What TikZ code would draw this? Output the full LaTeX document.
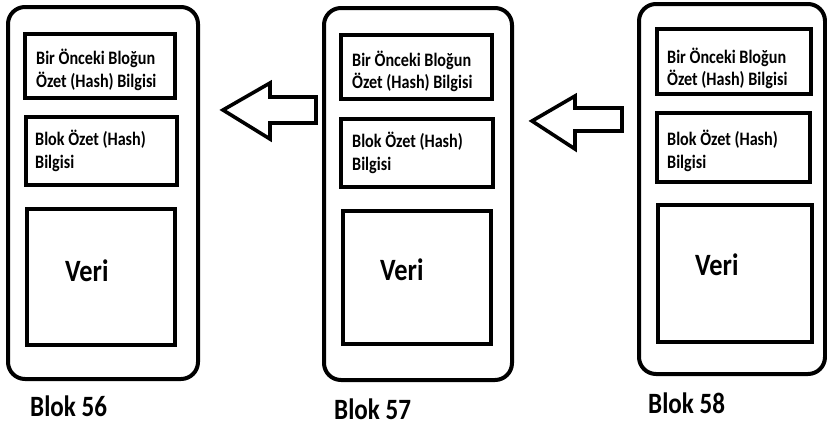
\documentclass[tikz,border=0pt]{standalone}
\usepackage{fontspec}
\setmainfont{Carlito}[FakeStretch=0.85]
\usetikzlibrary{fit}

\tikzset{
  blockframe/.style={draw=black, line width=4pt, rounded corners=17pt, inner sep=0pt, fit={#1}},
  cell/.style={draw=black, line width=4.2pt, inner sep=0pt, fit={#1}},
  % two-line captions: the base anchor sits on the last line
  small/.style={anchor=base west, inner sep=0pt, align=left,
                font=\bfseries\fontsize{19}{22.5}\selectfont},
  big/.style={anchor=base west, inner sep=0pt, font=\bfseries\fontsize{31}{36}\selectfont},
  blocklabel/.style={anchor=base west, inner sep=0pt, font=\bfseries\fontsize{29.5}{34}\selectfont},
  blockarrow/.style={draw=black, line width=3.6pt, line join=miter, fill=white},
}

\begin{document}
\begin{tikzpicture}[x=1pt, y=-1pt]
  \useasboundingbox (0,0) rectangle (827,429);

  % Blok 56
  \node[blockframe={(8,7) (198,379)}] (f56) {};
  \node[cell={(25,34) (175,98)}] (p56) {};
  \node[cell={(26,117) (177,185)}] (h56) {};
  \node[cell={(27,209) (175,345)}] (d56) {};
  \node[small] (tp56) at (36,87) {Bir Önceki Bloğun\\Özet (Hash) Bilgisi};
  \node[small] (th56) at (35,168) {Blok Özet (Hash)\\Bilgisi};
  \node[big] (td56) at (65,281) {Veri};
  \node[blocklabel] (n56) at (30,416) {Blok 56};

  % Blok 57
  \node[blockframe={(324,8) (512,380)}] (f57) {};
  \node[cell={(341,35) (492,99)}] (p57) {};
  \node[cell={(341,119) (493,187)}] (h57) {};
  \node[cell={(343,211) (491,344)}] (d57) {};
  \node[small] (tp57) at (352,88.5) {Bir Önceki Bloğun\\Özet (Hash) Bilgisi};
  \node[small] (th57) at (352,170) {Blok Özet (Hash)\\Bilgisi};
  \node[big] (td57) at (380,280) {Veri};
  \node[blocklabel] (n57) at (334,419) {Blok 57};

  % Blok 58
  \node[blockframe={(639,4) (825,374)}] (f58) {};
  \node[cell={(657,29) (811,94)}] (p58) {};
  \node[cell={(657,113) (810,182)}] (h58) {};
  \node[cell={(658,205) (812,342)}] (d58) {};
  \node[small] (tp58) at (667,85.5) {Bir Önceki Bloğun\\Özet (Hash) Bilgisi};
  \node[small] (th58) at (667,168) {Blok Özet (Hash)\\Bilgisi};
  \node[big] (td58) at (695,275) {Veri};
  \node[blocklabel] (n58) at (648,413) {Blok 58};

  % Hollow block arrows pointing back to the previous block
  \coordinate (a1) at (223,110);
  \draw[blockarrow] (a1) -- ++(47,-27) -- ++(0,14) -- ++(46,0) -- ++(0,26)
        -- ++(-46,0) -- ++(0,16) -- cycle;
  \coordinate (a2) at (532,121);
  \draw[blockarrow] (a2) -- ++(43,-25) -- ++(0,12) -- ++(47,0) -- ++(0,23)
        -- ++(-47,0) -- ++(0,18) -- cycle;
\end{tikzpicture}
\end{document}
